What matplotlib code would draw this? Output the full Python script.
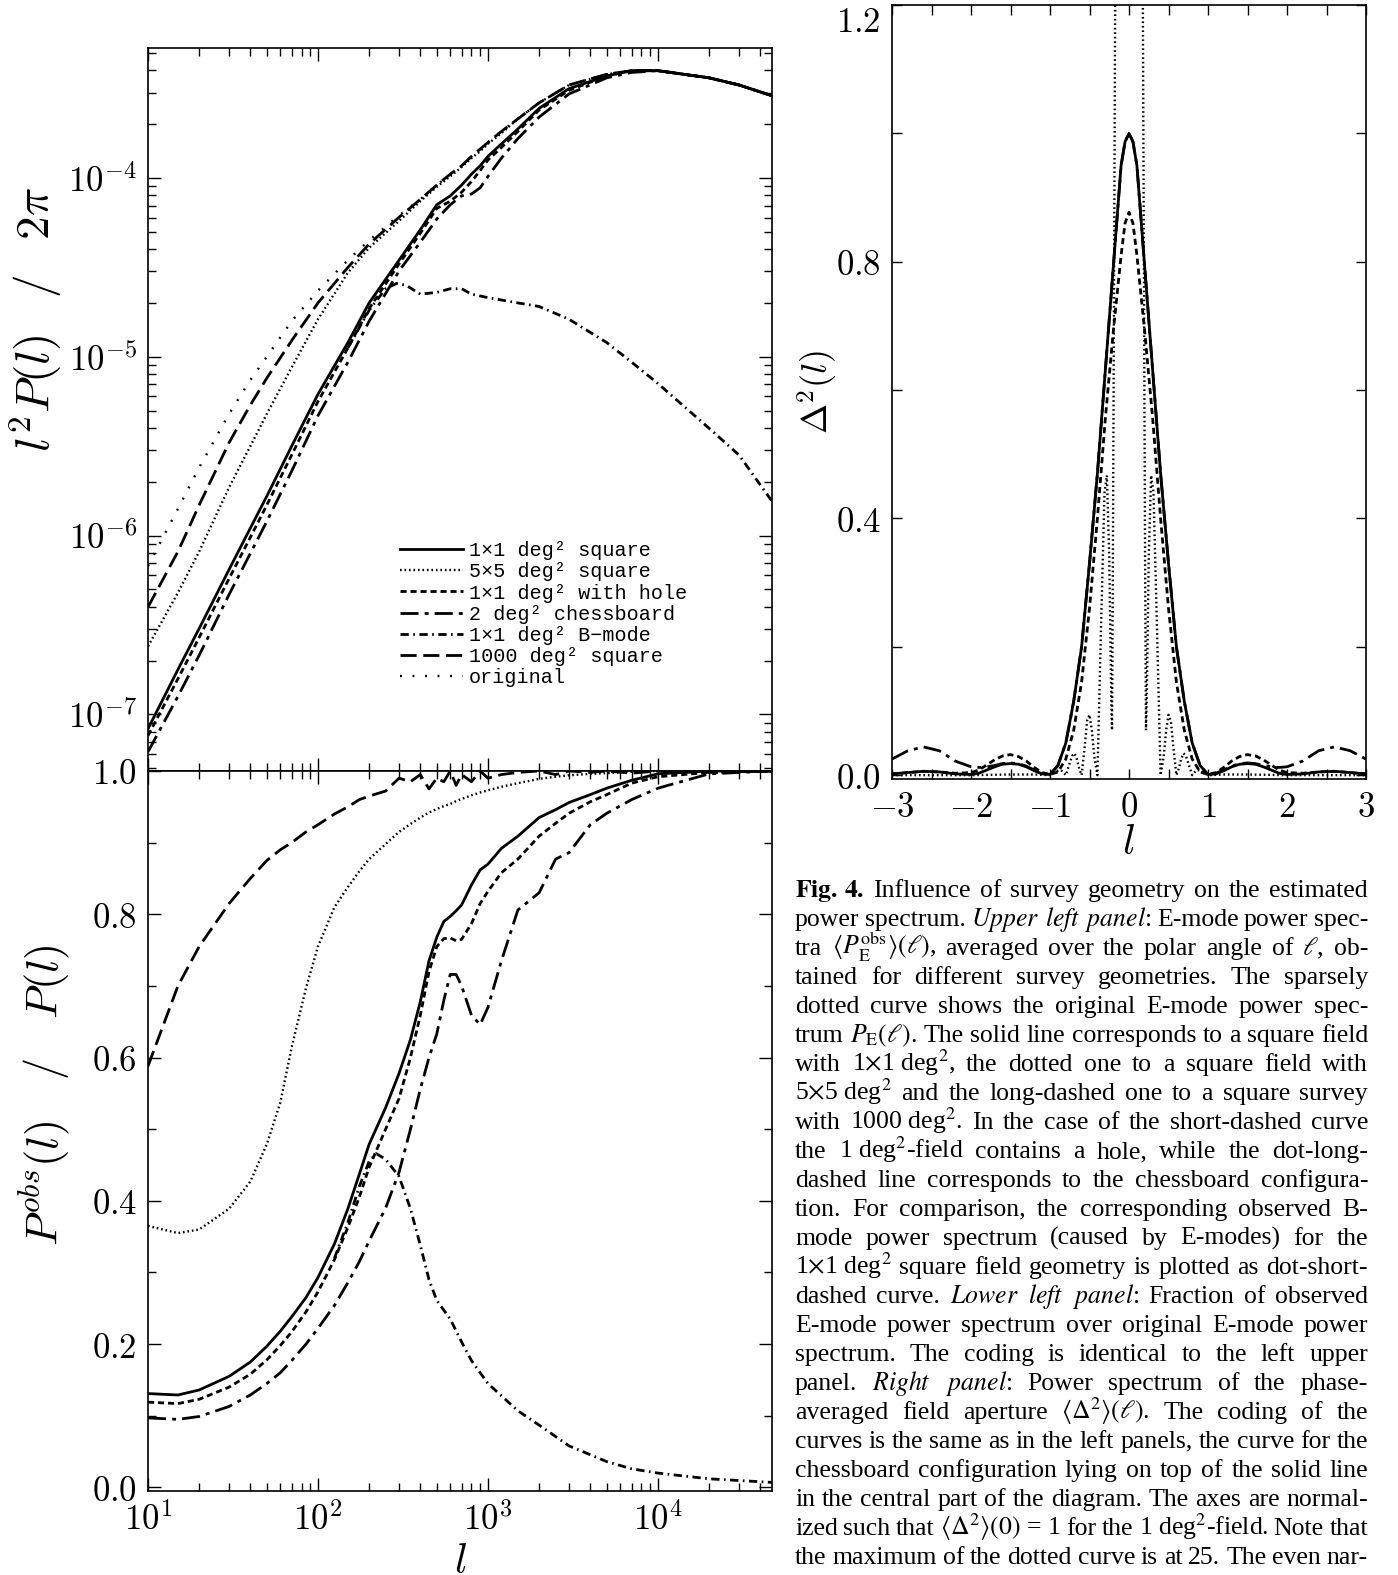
import numpy as np
import matplotlib
matplotlib.use("Agg")
import matplotlib.pyplot as plt
from matplotlib.ticker import FixedLocator, FuncFormatter, NullFormatter

plt.rcParams['mathtext.fontset'] = 'cm'
plt.rcParams['font.family'] = ['DejaVu Serif']
plt.rcParams['axes.linewidth'] = 1.2

# ---- upper left panel: l^2 P(l) / 2pi ----
l_top = [10, 15, 20, 30, 40, 50, 70, 100, 150, 200, 300, 400, 500, 600, 700, 800,
         900, 1000, 1200, 1500, 2000, 3000, 5000, 7000, 10000, 20000, 30000, 47000]
top_sq1 = [8.3e-8, 1.78e-7, 3.02e-7, 6.46e-7, 1.10e-6, 1.66e-6, 3.16e-6, 6.17e-6, 1.20e-5, 2.00e-5,
           3.47e-5, 5.13e-5, 7.08e-5, 7.94e-5, 9.12e-5, 1.05e-4, 1.17e-4, 1.32e-4, 1.55e-4, 1.88e-4,
           2.45e-4, 3.16e-4, 3.72e-4, 3.98e-4, 3.98e-4, 3.63e-4, 3.31e-4, 2.88e-4]
top_sq5 = [2.40e-7, 4.79e-7, 8.13e-7, 1.86e-6, 3.16e-6, 4.79e-6, 8.71e-6, 1.62e-5, 2.95e-5, 4.07e-5,
           5.75e-5, 7.41e-5, 8.91e-5, 1.02e-4, 1.15e-4, 1.29e-4, 1.41e-4, 1.55e-4, 1.78e-4, 2.14e-4,
           2.63e-4, 3.31e-4, 3.80e-4, 3.98e-4, 3.98e-4, 3.63e-4, 3.31e-4, 2.88e-4]
top_hole = [7.6e-8, 1.58e-7, 2.69e-7, 5.75e-7, 9.77e-7, 1.48e-6, 2.82e-6, 5.62e-6, 1.12e-5, 1.86e-5,
            3.31e-5, 4.90e-5, 6.76e-5, 7.41e-5, 8.32e-5, 9.55e-5, 1.10e-4, 1.26e-4, 1.48e-4, 1.82e-4,
            2.40e-4, 3.09e-4, 3.72e-4, 3.98e-4, 3.98e-4, 3.63e-4, 3.31e-4, 2.88e-4]
top_chess = [6.17e-8, 1.26e-7, 2.14e-7, 4.68e-7, 7.94e-7, 1.20e-6, 2.29e-6, 4.68e-6, 9.33e-6, 1.58e-5,
             3.02e-5, 4.37e-5, 5.89e-5, 7.08e-5, 7.94e-5, 8.13e-5, 8.81e-5, 1.02e-4, 1.29e-4, 1.66e-4,
             2.19e-4, 2.95e-4, 3.63e-4, 3.89e-4, 3.98e-4, 3.63e-4, 3.31e-4, 2.88e-4]
top_sq1000 = [3.98e-7, 8.13e-7, 1.48e-6, 3.31e-6, 5.37e-6, 7.59e-6, 1.23e-5, 2.00e-5, 3.16e-5, 4.27e-5,
              6.03e-5, 7.59e-5, 9.12e-5, 1.05e-4, 1.17e-4, 1.32e-4, 1.45e-4, 1.58e-4, 1.82e-4, 2.14e-4,
              2.63e-4, 3.31e-4, 3.80e-4, 3.98e-4, 3.98e-4, 3.63e-4, 3.31e-4, 2.88e-4]
top_orig = [6.76e-7, 1.41e-6, 2.40e-6, 4.79e-6, 7.41e-6, 1.00e-5, 1.58e-5, 2.34e-5, 3.47e-5, 4.47e-5,
            6.17e-5, 7.59e-5, 9.12e-5, 1.05e-4, 1.17e-4, 1.32e-4, 1.45e-4, 1.58e-4, 1.82e-4, 2.14e-4,
            2.63e-4, 3.31e-4, 3.80e-4, 3.98e-4, 3.98e-4, 3.63e-4, 3.31e-4, 2.88e-4]
l_bm_top = [150, 200, 250, 290, 330, 400, 500, 600, 700, 800, 1000, 1500, 2000, 3000, 5000,
            7000, 10000, 20000, 30000, 47000]
top_bmode = [1.12e-5, 1.82e-5, 2.40e-5, 2.57e-5, 2.51e-5, 2.24e-5, 2.29e-5, 2.40e-5, 2.40e-5, 2.24e-5,
             2.14e-5, 2.00e-5, 1.91e-5, 1.62e-5, 1.20e-5, 9.33e-6, 7.08e-6, 3.98e-6, 2.82e-6, 1.55e-6]

# ---- lower left panel: P_obs / P ----
l_bot = [10, 15, 20, 30, 40, 50, 60, 70, 85, 100, 125, 150, 175, 200, 250, 300, 350, 400, 450,
         500, 550, 600, 650, 700, 800, 900, 1000, 1200, 1500, 2000, 2500, 3000, 4000, 5000, 7000,
         10000, 20000, 47000]
bot_sq1 = [0.131, 0.129, 0.136, 0.155, 0.175, 0.197, 0.218, 0.238, 0.265, 0.293, 0.340, 0.389, 0.437,
           0.479, 0.530, 0.578, 0.625, 0.678, 0.735, 0.768, 0.790, 0.797, 0.805, 0.813, 0.841, 0.862,
           0.870, 0.892, 0.909, 0.935, 0.946, 0.956, 0.967, 0.976, 0.987, 0.996, 1.0, 1.0]
bot_sq5 = [0.365, 0.355, 0.360, 0.389, 0.427, 0.479, 0.537, 0.614, 0.697, 0.755, 0.810, 0.838, 0.860,
           0.877, 0.898, 0.915, 0.926, 0.935, 0.942, 0.947, 0.951, 0.954, 0.958, 0.961, 0.966, 0.970,
           0.973, 0.978, 0.983, 0.989, 0.992, 0.994, 0.996, 0.997, 0.999, 1.0, 1.0, 1.0]
bot_hole = [0.119, 0.117, 0.123, 0.140, 0.158, 0.178, 0.198, 0.217, 0.245, 0.273, 0.318, 0.363, 0.405,
            0.447, 0.500, 0.543, 0.600, 0.659, 0.720, 0.755, 0.766, 0.767, 0.763, 0.765, 0.787, 0.815,
            0.832, 0.858, 0.877, 0.909, 0.927, 0.941, 0.957, 0.967, 0.983, 0.992, 0.998, 1.0]
bot_chess = [0.097, 0.095, 0.099, 0.113, 0.129, 0.145, 0.160, 0.177, 0.200, 0.222, 0.254, 0.286, 0.315,
             0.344, 0.390, 0.440, 0.500, 0.556, 0.600, 0.633, 0.680, 0.716, 0.716, 0.700, 0.659, 0.646,
             0.670, 0.735, 0.806, 0.830, 0.877, 0.886, 0.925, 0.941, 0.960, 0.976, 0.996, 1.0]
bot_sq1000 = [0.588, 0.700, 0.755, 0.815, 0.850, 0.875, 0.890, 0.900, 0.915, 0.925, 0.940, 0.950, 0.960,
              0.965, 0.972, 0.990, 0.985, 0.995, 0.975, 0.990, 0.985, 1.0, 0.980, 0.995, 0.985, 1.0,
              0.990, 0.995, 0.998, 1.0, 0.995, 1.0, 0.998, 1.0, 0.997, 1.0, 0.998, 1.0]
l_bm_bot = [125, 150, 175, 200, 220, 250, 300, 350, 400, 450, 500, 600, 700, 800, 1000, 1500, 2000,
            3000, 5000, 7000, 10000, 20000, 47000]
bot_bmode = [0.32, 0.37, 0.42, 0.455, 0.466, 0.458, 0.434, 0.389, 0.338, 0.290, 0.261, 0.235, 0.203,
             0.177, 0.145, 0.107, 0.087, 0.058, 0.036, 0.026, 0.020, 0.012, 0.007]

# ---- right panel: Delta^2(l) ----
l_r = [-3.0, -2.8, -2.6, -2.4, -2.2, -2.0, -1.9, -1.8, -1.7, -1.6, -1.5, -1.4, -1.3, -1.2, -1.1,
       -1.0, -0.9, -0.8, -0.7, -0.6, -0.5, -0.4, -0.3, -0.2, -0.1, -0.05, 0.0,
       0.05, 0.1, 0.2, 0.3, 0.4, 0.5, 0.6, 0.7, 0.8, 0.9, 1.0,
       1.1, 1.2, 1.3, 1.4, 1.5, 1.6, 1.7, 1.8, 1.9, 2.0, 2.2, 2.4, 2.6, 2.8, 3.0]
r_sq1 = [0.002, 0.004, 0.006, 0.005, 0.002, 0.001, 0.003, 0.008, 0.013, 0.017, 0.018, 0.017, 0.013,
         0.007, 0.002, 0.001, 0.015, 0.05, 0.115, 0.20, 0.33, 0.47, 0.63, 0.79, 0.95, 0.987, 1.0,
         0.987, 0.95, 0.79, 0.63, 0.47, 0.33, 0.20, 0.115, 0.05, 0.015, 0.001,
         0.002, 0.007, 0.013, 0.017, 0.018, 0.017, 0.013, 0.008, 0.003, 0.001, 0.002, 0.005, 0.006,
         0.004, 0.002]
r_hole = [0.002, 0.004, 0.006, 0.005, 0.003, 0.004, 0.008, 0.016, 0.024, 0.030, 0.032, 0.029, 0.022,
          0.012, 0.004, 0.001, 0.005, 0.025, 0.07, 0.145, 0.26, 0.40, 0.555, 0.69, 0.81, 0.86, 0.877,
          0.86, 0.81, 0.69, 0.555, 0.40, 0.26, 0.145, 0.07, 0.025, 0.005, 0.001,
          0.004, 0.012, 0.022, 0.029, 0.032, 0.030, 0.024, 0.016, 0.008, 0.004, 0.003, 0.005, 0.006,
          0.004, 0.002]
r_chess = [0.025, 0.038, 0.044, 0.038, 0.022, 0.013, 0.012, 0.013, 0.015, 0.018, 0.019, 0.018, 0.014,
           0.008, 0.003, 0.001, 0.015, 0.05, 0.115, 0.20, 0.33, 0.47, 0.63, 0.79, 0.95, 0.987, 1.0,
           0.987, 0.95, 0.79, 0.63, 0.47, 0.33, 0.20, 0.115, 0.05, 0.015, 0.001,
           0.003, 0.008, 0.014, 0.018, 0.019, 0.018, 0.015, 0.013, 0.012, 0.013, 0.022, 0.038, 0.044,
           0.038, 0.025]
l_r5 = [-3.0, -2.0, -1.5, -1.2, -1.0, -0.95, -0.9, -0.87, -0.84, -0.8, -0.76, -0.72, -0.69, -0.66,
        -0.63, -0.6, -0.56, -0.53, -0.5, -0.47, -0.44, -0.4, -0.35, -0.31, -0.28, -0.25, -0.225,
        -0.215, -0.205, -0.19, -0.172, -0.15, -0.1, -0.05, 0.0,
        0.05, 0.1, 0.15, 0.172, 0.19, 0.205, 0.215, 0.225, 0.25, 0.28, 0.31, 0.35, 0.4, 0.44, 0.47,
        0.5, 0.53, 0.56, 0.6, 0.63, 0.66, 0.69, 0.72, 0.76, 0.8, 0.84, 0.87, 0.9, 0.95, 1.0, 1.2,
        1.5, 2.0, 3.0]
r_sq5 = [0.0, 0.0, 0.001, 0.001, 0.0, 0.004, 0.007, 0.008, 0.006, 0.0, 0.015, 0.03, 0.034, 0.025,
         0.01, 0.0, 0.045, 0.085, 0.094, 0.07, 0.03, 0.0, 0.25, 0.44, 0.467, 0.34, 0.12,
         0.07, 0.3, 0.75, 1.3, 3.5, 10.0, 19.0, 25.0,
         19.0, 10.0, 3.5, 1.3, 0.75, 0.3, 0.07, 0.12, 0.34, 0.467, 0.44, 0.25, 0.0, 0.03, 0.07,
         0.094, 0.085, 0.045, 0.0, 0.01, 0.025, 0.034, 0.03, 0.015, 0.0, 0.006, 0.008, 0.007, 0.004,
         0.0, 0.001, 0.001, 0.0, 0.0]

labels = ['1\u00d71 deg\u00b2 square', '5\u00d75 deg\u00b2 square', '1\u00d71 deg\u00b2 with hole',
          '2 deg\u00b2 chessboard', '1\u00d71 deg\u00b2 B\u2212mode', '1000 deg\u00b2 square', 'original']

st_sq1 = dict(color='black', ls='-', lw=2.0)
st_sq5 = dict(color='black', ls=(0, (0.7, 1.2)), lw=1.7)
st_hole = dict(color='black', ls=(0, (2.2, 1.4)), lw=2.0)
st_chess = dict(color='black', ls=(0, (6.5, 2.2, 1.4, 2.2)), lw=2.0)
st_bmode = dict(color='black', ls=(0, (3.0, 1.6, 0.6, 1.6)), lw=2.0)
st_sq1000 = dict(color='black', ls=(0, (5.8, 2.4)), lw=2.0)
st_orig = dict(color='black', ls=(0, (0.8, 4.5)), lw=1.7)

W, H = 1398, 1575
fig = plt.figure(figsize=(W / 100, H / 100), dpi=100)


def box(left, top, right, bottom):
    return [left / W, 1 - bottom / H, (right - left) / W, (bottom - top) / H]


ax1 = fig.add_axes(box(148, 48, 772, 771))
ax2 = fig.add_axes(box(148, 771, 772, 1491))
ax3 = fig.add_axes(box(892, 5, 1366, 779))

log_lab = FuncFormatter(lambda v, p: r'$10^{%d}$' % round(np.log10(v)))
lin1 = FuncFormatter(lambda v, p: r'$%.1f$' % v)
lin0 = FuncFormatter(lambda v, p: r'$%d$' % round(v))
TICK = 25


def log_x(ax, show):
    ax.set_xscale('log')
    ax.set_xlim(10, 4.69e4)
    ax.xaxis.set_major_locator(FixedLocator([10, 100, 1000, 10000]))
    ax.xaxis.set_minor_locator(FixedLocator([m * 10 ** e for e in range(1, 5) for m in range(2, 10)
                                             if m * 10 ** e < 4.69e4]))
    ax.xaxis.set_minor_formatter(NullFormatter())
    ax.xaxis.set_major_formatter(log_lab if show else NullFormatter())


# upper left
ax1.plot(l_top, top_sq1, label=labels[0], **st_sq1)
ax1.plot(l_top, top_sq5, label=labels[1], **st_sq5)
ax1.plot(l_top, top_hole, label=labels[2], **st_hole)
ax1.plot(l_top, top_chess, label=labels[3], **st_chess)
ax1.plot(l_bm_top, top_bmode, label=labels[4], **st_bmode)
ax1.plot(l_top, top_sq1000, label=labels[5], **st_sq1000)
ax1.plot(l_top, top_orig, label=labels[6], **st_orig)
log_x(ax1, False)
ax1.set_yscale('log')
ax1.set_ylim(4.82e-8, 5.33e-4)
ax1.yaxis.set_major_locator(FixedLocator([1e-7, 1e-6, 1e-5, 1e-4]))
ax1.yaxis.set_minor_locator(FixedLocator([m * 10.0 ** e for e in range(-8, -3) for m in range(2, 10)
                                          if 4.82e-8 < m * 10.0 ** e < 5.33e-4]))
ax1.yaxis.set_major_formatter(log_lab)
ax1.yaxis.set_minor_formatter(NullFormatter())
ax1.set_ylabel(r'$l^2P(l)\;\;\;/\;\;\;2\pi$', fontsize=34)
ax1.yaxis.set_label_coords(-0.135, 0.625)
leg = ax1.legend(loc='upper left', bbox_to_anchor=(0.404, 0.318), frameon=False,
                 prop={'family': 'Liberation Mono', 'size': 14.5}, handlelength=3.1,
                 handletextpad=0.3, labelspacing=0.11, borderpad=0, borderaxespad=0)

# lower left
ax2.plot(l_bot, bot_sq1, **st_sq1)
ax2.plot(l_bot, bot_sq5, **st_sq5)
ax2.plot(l_bot, bot_hole, **st_hole)
ax2.plot(l_bot, bot_chess, **st_chess)
ax2.plot(l_bm_bot, bot_bmode, **st_bmode)
ax2.plot(l_bot, bot_sq1000, **st_sq1000)
log_x(ax2, True)
ax2.set_ylim(-0.005, 1.0)
ax2.yaxis.set_major_locator(FixedLocator([0, 0.2, 0.4, 0.6, 0.8, 1.0]))
ax2.yaxis.set_minor_locator(FixedLocator([0.1, 0.3, 0.5, 0.7, 0.9]))
ax2.yaxis.set_major_formatter(lin1)
ax2.set_ylabel(r'$P^{obs}(l)\quad/\quad P(l)$', fontsize=32)
ax2.yaxis.set_label_coords(-0.122, 0.55)
ax2.set_xlabel(r'$l$', fontsize=30)
ax2.xaxis.set_label_coords(0.5, -0.068)

# right
ax3.plot(l_r, r_sq1, **st_sq1)
ax3.plot(l_r5, r_sq5, **st_sq5)
ax3.plot(l_r, r_hole, **st_hole)
ax3.plot(l_r, r_chess, **st_chess)
ax3.set_xlim(-3, 3)
ax3.set_ylim(-0.006, 1.2)
ax3.xaxis.set_major_locator(FixedLocator([-3, -2, -1, 0, 1, 2, 3]))
ax3.xaxis.set_minor_locator(FixedLocator([-2.5, -1.5, -0.5, 0.5, 1.5, 2.5]))
ax3.xaxis.set_major_formatter(lin0)
ax3.yaxis.set_major_locator(FixedLocator([0, 0.4, 0.8, 1.2]))
ax3.yaxis.set_minor_locator(FixedLocator([0.2, 0.6, 1.0]))
ax3.yaxis.set_major_formatter(lin1)
ax3.set_ylabel(r'$\Delta^2(l)$', fontsize=26)
ax3.yaxis.set_label_coords(-0.11, 0.5)
ax3.set_xlabel(r'$l$', fontsize=30)
ax3.xaxis.set_label_coords(0.5, -0.054)

for ax in (ax1, ax2):
    ax.tick_params(which='both', direction='in', top=True, right=True, labelsize=TICK, width=1.0, pad=8)
    ax.tick_params(which='major', length=9.5)
    ax.tick_params(which='minor', length=6)
ax3.tick_params(which='both', direction='in', top=True, right=True, labelsize=TICK, width=1.0,
                length=7.5, pad=8)
# top label of the right panel sits below its tick, inside the page
ax3.yaxis.get_major_ticks()[-1].label1.set_va('top')

# caption, justified line by line
caption = [
    r"$\mathbf{Fig.\,4.}$ Influence of survey geometry on the estimated",
    r"power spectrum. $\mathit{Upper}$ $\mathit{left}$ $\mathit{panel}$: E-mode power spec-",
    r"tra $\langle{}P_\mathrm{E}^\mathrm{obs}\rangle(\ell)$, averaged over the polar angle of $\ell$, ob-",
    r"tained for different survey geometries. The sparsely",
    r"dotted curve shows the original E-mode power spec-",
    r"trum $P_\mathrm{E}(\ell)$. The solid line corresponds to a square field",
    r"with 1$\times$1~deg$^2$, the dotted one to a square field with",
    r"5$\times$5~deg$^2$ and the long-dashed one to a square survey",
    r"with 1000~deg$^2$. In the case of the short-dashed curve",
    r"the 1~deg$^2$-field contains a hole, while the dot-long-",
    r"dashed line corresponds to the chessboard configura-",
    r"tion. For comparison, the corresponding observed B-",
    r"mode power spectrum (caused by E-modes) for the",
    r"1$\times$1~deg$^2$ square field geometry is plotted as dot-short-",
    r"dashed curve. $\mathit{Lower}$ $\mathit{left}$ $\mathit{panel}$: Fraction of observed",
    r"E-mode power spectrum over original E-mode power",
    r"spectrum. The coding is identical to the left upper",
    r"panel. $\mathit{Right}$ $\mathit{panel}$: Power spectrum of the phase-",
    r"averaged field aperture $\langle\Delta^2\rangle(\ell)$. The coding of the",
    r"curves is the same as in the left panels, the curve for the",
    r"chessboard configuration lying on top of the solid line",
    r"in the central part of the diagram. The axes are normal-",
    r"ized such that $\langle\Delta^2\rangle(0)$~=~1 for the 1~deg$^2$-field. Note that",
    r"the maximum of the dotted curve is at 25. The even nar-",
]

renderer = fig.canvas.get_renderer()
x0, x1, y0, dy, size = 795, 1368, 897, 29.0, 18.5
for i, line in enumerate(caption):
    words = [w.replace('~', ' ') for w in line.split(' ')]
    fs = size
    while True:
        ts = [fig.text(0, 1 - (y0 + i * dy) / H, w, fontsize=fs, family='Liberation Serif',
                       math_fontfamily='stix', va='baseline', ha='left') for w in words]
        ws = [t.get_window_extent(renderer).width for t in ts]
        gap = (x1 - x0 - sum(ws)) / (len(ws) - 1)
        if gap >= 4.5 or fs < size * 0.85:
            break
        for t in ts:
            t.remove()
        fs -= 0.25
    x = x0
    for t, w in zip(ts, ws):
        t.set_x(x / W)
        x += w + gap

fig.savefig('out.png', dpi=100)
